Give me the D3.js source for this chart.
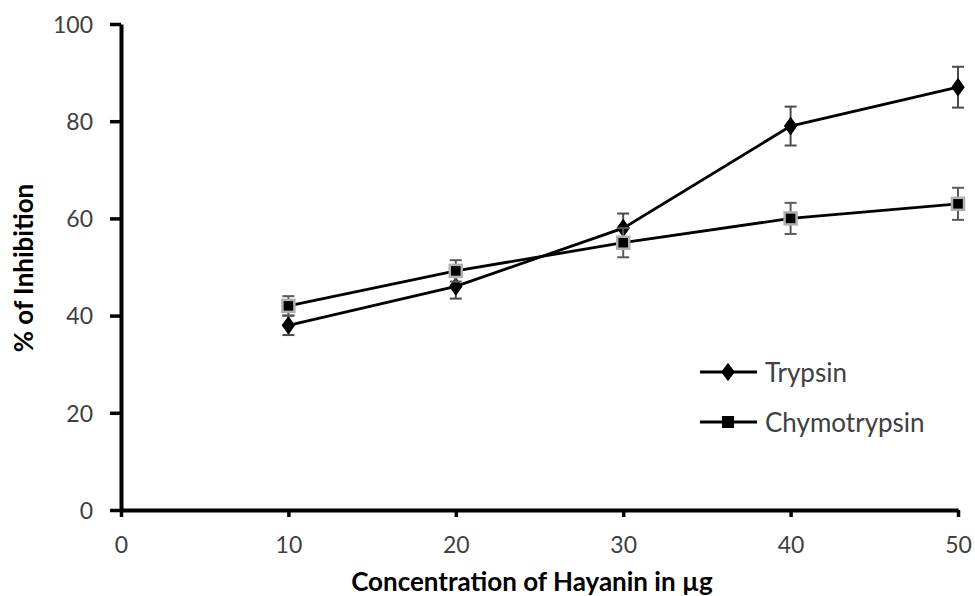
<!DOCTYPE html>
<html>
<head>
<meta charset="utf-8">
<script src="https://cdn.jsdelivr.net/npm/d3@7"></script>
<style>
  body { margin: 0; background: #fff; }
  svg { display: block; font-family: Lato, "Open Sans", sans-serif; }
</style>
</head>
<body>
<svg width="975" height="596"></svg>
<script>
const concentrations = [10, 20, 30, 40, 50];
const trypsin = [38, 46, 58, 79, 87];
const trypsinErr = [2, 2.5, 3, 4, 4.2];
const chymotrypsin = [42, 49.2, 55, 60, 63];
const chymotrypsinErr = [2, 2.2, 3, 3.2, 3.3];
const xTicks = [0, 10, 20, 30, 40, 50];
const yTicks = [0, 20, 40, 60, 80, 100];
const seriesNames = ["Trypsin", "Chymotrypsin"];

const svg = d3.select("svg");

const x = d3.scaleLinear().domain([0, 50]).range([121, 958]);
const y = d3.scaleLinear().domain([0, 100]).range([510, 24]);

// Axes
const xAxis = svg.append("g")
  .attr("transform", `translate(0,${y(0)})`)
  .call(d3.axisBottom(x).tickValues(xTicks).tickSize(7).tickPadding(20).tickSizeOuter(0));
const yAxis = svg.append("g")
  .attr("transform", `translate(${x(0)},0)`)
  .call(d3.axisLeft(y).tickValues(yTicks).tickSize(11).tickPadding(17).tickSizeOuter(0));

[xAxis, yAxis].forEach(a => {
  a.select(".domain").attr("stroke", "#000").attr("stroke-width", 4);
  a.selectAll(".tick line").attr("stroke", "#000").attr("stroke-width", 3.5);
  a.selectAll(".tick text").attr("fill", "#404040").attr("font-size", 23).attr("font-family", "Lato, sans-serif");
});
yAxis.selectAll(".tick text").attr("dy", "0.36em");

// Axis titles
svg.append("text")
  .attr("x", 532).attr("y", 591)
  .attr("text-anchor", "middle")
  .attr("font-size", 26).attr("font-weight", "bold")
  .text("Concentration of Hayanin in µg");

svg.append("text")
  .attr("transform", "translate(33,268) rotate(-90)")
  .attr("text-anchor", "middle")
  .attr("font-size", 26).attr("font-weight", "bold")
  .text("% of Inhibition");

const line = d3.line().x((d, i) => x(concentrations[i])).y(d => y(d));

const drawSeries = (values, errs, marker, errColor) => {
  const g = svg.append("g");
  // error bars
  values.forEach((v, i) => {
    const cx = x(concentrations[i]);
    const e = g.append("g").attr("stroke", errColor).attr("stroke-width", 2);
    e.append("line").attr("x1", cx).attr("x2", cx).attr("y1", y(v + errs[i])).attr("y2", y(v - errs[i]));
    e.append("line").attr("x1", cx - 6).attr("x2", cx + 6).attr("y1", y(v + errs[i])).attr("y2", y(v + errs[i]));
    e.append("line").attr("x1", cx - 6).attr("x2", cx + 6).attr("y1", y(v - errs[i])).attr("y2", y(v - errs[i]));
  });
  g.append("path")
    .attr("d", line(values))
    .attr("fill", "none").attr("stroke", "#000").attr("stroke-width", 2.8);
  values.forEach((v, i) => marker(g, x(concentrations[i]), y(v)));
};

const diamond = (g, cx, cy) => {
  g.append("path")
    .attr("d", d3.symbol(d3.symbolDiamond, 80)())
    .attr("transform", `translate(${cx},${cy}) scale(1.25,1)`)
    .attr("fill", "#000")
    .attr("stroke", "#000").attr("stroke-width", 1).attr("stroke-linejoin", "round");
};
const square = (g, cx, cy, s = 12, outline = true) => {
  g.append("rect")
    .attr("x", cx - s / 2).attr("y", cy - s / 2)
    .attr("width", s).attr("height", s)
    .attr("fill", "#000")
    .attr("stroke", outline ? "#b0b0b0" : "none").attr("stroke-width", 2.5);
};

drawSeries(trypsin, trypsinErr, diamond, "#4a4a4a");
drawSeries(chymotrypsin, chymotrypsinErr, square, "#5a5a5a");

// Legend
const legendMarkers = [diamond, (g, cx, cy) => square(g, cx, cy, 12, false)];
const legend = svg.append("g");
seriesNames.forEach((name, i) => {
  const ly = 372 + i * 50;
  legend.append("line")
    .attr("x1", 700).attr("x2", 757).attr("y1", ly).attr("y2", ly)
    .attr("stroke", "#000").attr("stroke-width", 2.8);
  legendMarkers[i](legend, 728, ly);
  legend.append("text")
    .attr("x", 765).attr("y", ly + 10)
    .attr("font-size", 26).attr("fill", "#404040")
    .text(name);
});
</script>
</body>
</html>
